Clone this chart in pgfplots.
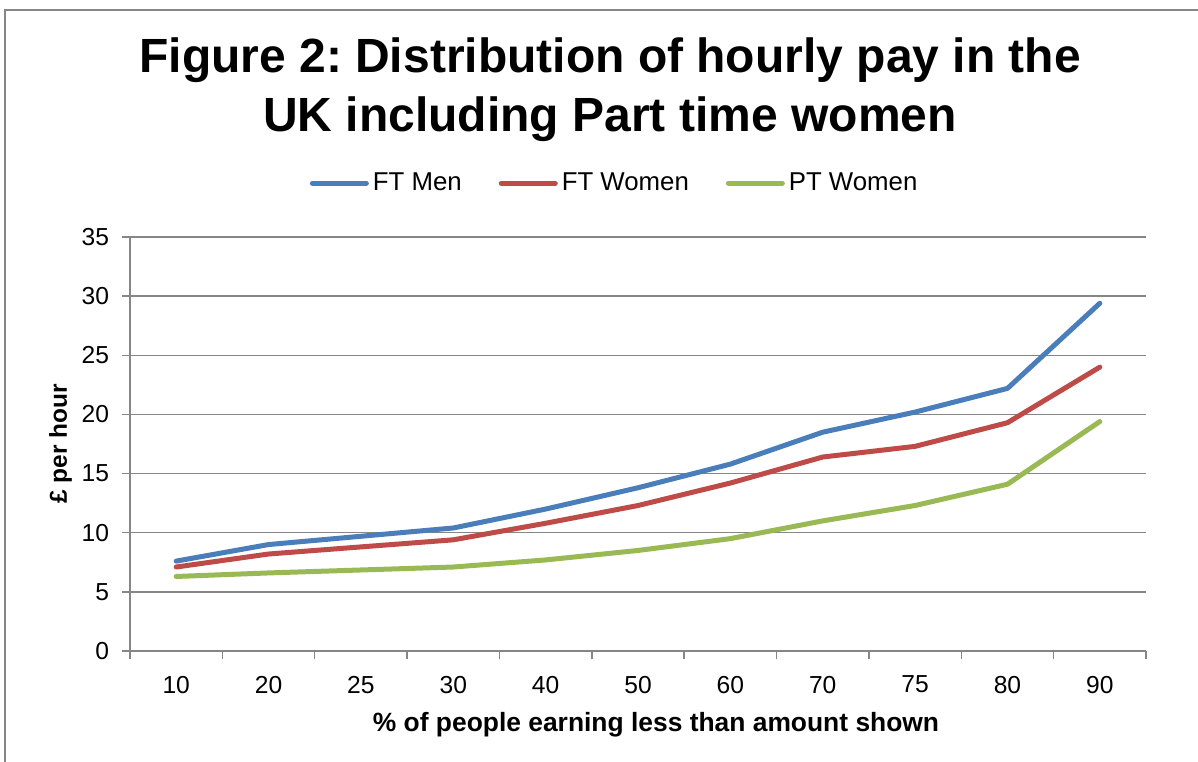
\documentclass[border=0pt]{standalone}
\usepackage{pgfplots}
\pgfplotsset{compat=1.18}
\usepackage{fontspec}
\setmainfont{Liberation Sans}
\frenchspacing
\definecolor{menblue}{HTML}{4A7EBB}
\definecolor{fwred}{HTML}{BE4B48}
\definecolor{ptgreen}{HTML}{98B954}
\definecolor{axgray}{HTML}{868686}

\begin{document}
\begin{tikzpicture}[x=1pt,y=1pt]
% page box: 1198x761 px at 0.5pt per px
\useasboundingbox (0,0) rectangle (599,380.5);
\draw[axgray, line width=0.8pt] (2.5,-10) -- (2.5,375.5) -- (610,375.5);
\node[font=\bfseries\fontsize{24}{29.5}\selectfont, align=center] at (305,335.5) {Figure 2: Distribution of hourly pay in the\\UK including Part time women};
\begin{axis}[
  at={(65pt,55pt)}, anchor=origin,
  scale only axis, width=508pt, height=207pt,
  xmin=0.5, xmax=11.5, ymin=0, ymax=35,
  axis lines*=left,
  axis line style={axgray, line width=0.7pt},
  xtick={1,...,11},
  xticklabels={10,20,25,30,40,50,60,70,75,80,90},
  major x tick style={draw=none},
  minor xtick={0.5,1.5,...,11.5},
  minor tick length=4pt,
  ytick={0,5,...,35},
  tick align=outside, major tick length=4pt,
  tick style={axgray, line width=0.7pt},
  ymajorgrids, grid style={axgray, line width=0.7pt},
  tick label style={font=\fontsize{12.3}{14}\selectfont},
  /pgf/number format/assume math mode=true,
  yticklabel style={xshift=-3pt},
  xticklabel style={yshift=-5pt},
  xlabel={\bfseries\% of people earning less than amount shown},
  ylabel={\bfseries £ per hour},
  xlabel style={font=\fontsize{13.2}{15}\selectfont, yshift=-2.5pt, xshift=9pt},
  ylabel style={font=\fontsize{12.2}{14}\selectfont, yshift=-2pt},
  legend columns=3,
  legend style={at={(0.478,1.13)}, anchor=center, draw=none, fill=none,
    font=\fontsize{12.9}{15}\selectfont,
    /tikz/every even column/.append style={column sep=16.5pt}},
  legend image code/.code={\draw[#1, line width=2.5pt] (0pt,0pt) -- (27pt,0pt);},
  every axis plot/.append style={line width=2.5pt, line join=round, line cap=round},
]
\addplot[menblue] coordinates {(1,7.6) (2,9.0) (3,9.7) (4,10.4) (5,12.0) (6,13.8) (7,15.8) (8,18.5) (9,20.2) (10,22.2) (11,29.4)};
\addplot[fwred] coordinates {(1,7.1) (2,8.2) (3,8.8) (4,9.4) (5,10.8) (6,12.3) (7,14.2) (8,16.4) (9,17.3) (10,19.3) (11,24.0)};
\addplot[ptgreen] coordinates {(1,6.3) (2,6.6) (3,6.85) (4,7.1) (5,7.7) (6,8.5) (7,9.5) (8,11.0) (9,12.3) (10,14.1) (11,19.4)};
\legend{FT Men, FT Women, PT Women}
\end{axis}
\end{tikzpicture}
\end{document}
